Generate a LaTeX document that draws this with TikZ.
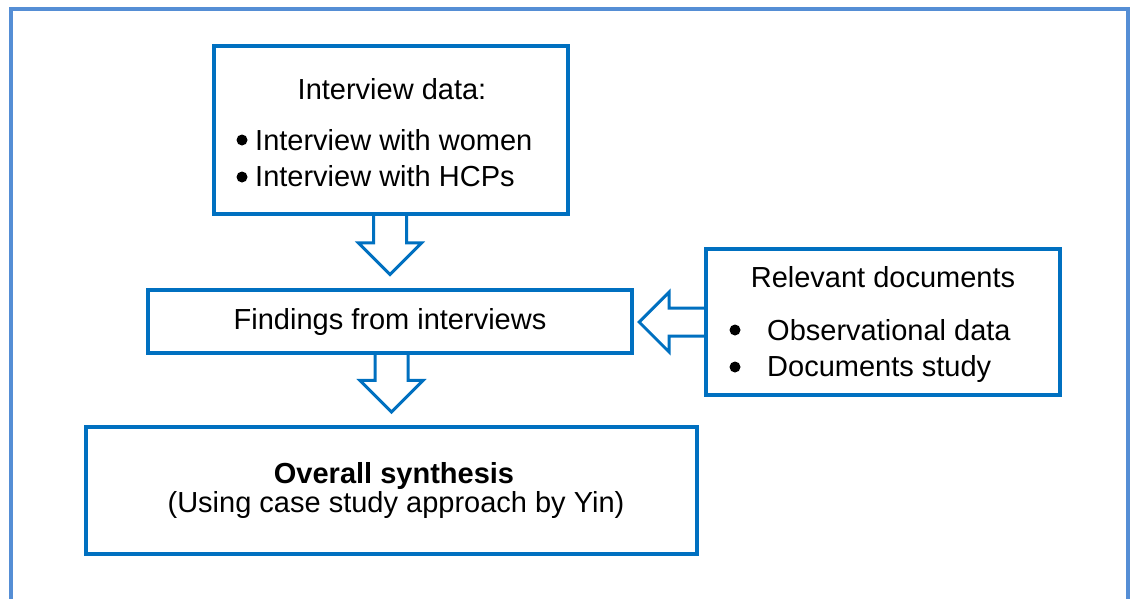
\documentclass[tikz,border=0pt]{standalone}
\usepackage{fontspec}
\setmainfont{Liberation Sans}
\usetikzlibrary{shapes.arrows,calc,backgrounds}
\definecolor{boxblue}{HTML}{0070C0}
\definecolor{frameblue}{HTML}{558ED5}
\tikzset{
  box/.style={draw=boxblue, line width=4pt, fill=white, inner sep=0pt},
  blockarrow/.style={single arrow, draw=boxblue, line width=3pt, fill=white,
    single arrow tip angle=90, anchor=tip},
  txt/.style={font=\fontsize{29}{34}\selectfont, inner sep=0pt},
  dot/.style={fill=black}
}

\begin{document}
\begin{tikzpicture}[x=1pt,y=-1pt]
        \useasboundingbox (0,0) rectangle (1132,598);
        \draw[frameblue, line width=4pt] (11,612) -- (11,9) -- (1128,9) -- (1128,612);
        \node[box, minimum width=354pt, minimum height=168pt] (1) at (391,130) {};
        \node[box, minimum width=484pt, minimum height=63pt] (2) at (390,321) {};
        \node[box, minimum width=354pt, minimum height=146pt] (3) at (883,322) {};
        \node[box, minimum width=611pt, minimum height=127pt] (4) at (391.5,490.5) {};
        \begin{scope}[on background layer]
        \node[blockarrow, shape border rotate=270, minimum height=70pt, inner sep=15pt,
          single arrow head extend=15pt] (a1) at ($(2.north)+(0,-11)$) {};
        \node[blockarrow, shape border rotate=270, minimum height=68pt, inner sep=15pt,
          single arrow head extend=15pt] (a2) at ($(4.north)+(0,-11)$) {};
        \node[blockarrow, shape border rotate=180, minimum height=71pt, inner sep=12.5pt,
          single arrow head extend=16pt] (a3) at ($(3.west)+(-67,0)$) {};
        \end{scope}
        \node[txt, anchor=base] (t1) at (392,99) {Interview data:};
        \node[txt, anchor=base west] (t2) at (255,150) {Interview with women};
        \node[txt, anchor=base west] (t3) at (255,186) {Interview with HCPs};
        \fill[dot] (242,140) circle (5.5);
        \fill[dot] (242,177) circle (5.5);
        \node[txt, anchor=base] (t4) at (390,329) {Findings from interviews};
        \node[txt, anchor=base] (t5) at (883,287) {Relevant documents};
        \node[txt, anchor=base west] (t6) at (767,340) {Observational data};
        \node[txt, anchor=base west] (t7) at (767,376) {Documents study};
        \fill[dot] (735,330) circle (5.5);
        \fill[dot] (735,367) circle (5.5);
        \node[txt, anchor=base] (t8) at (394,483) {\bfseries Overall synthesis};
        \node[txt, anchor=base] (t9) at (396,512) {(Using case study approach by Yin)};
      \end{tikzpicture}
\end{document}
